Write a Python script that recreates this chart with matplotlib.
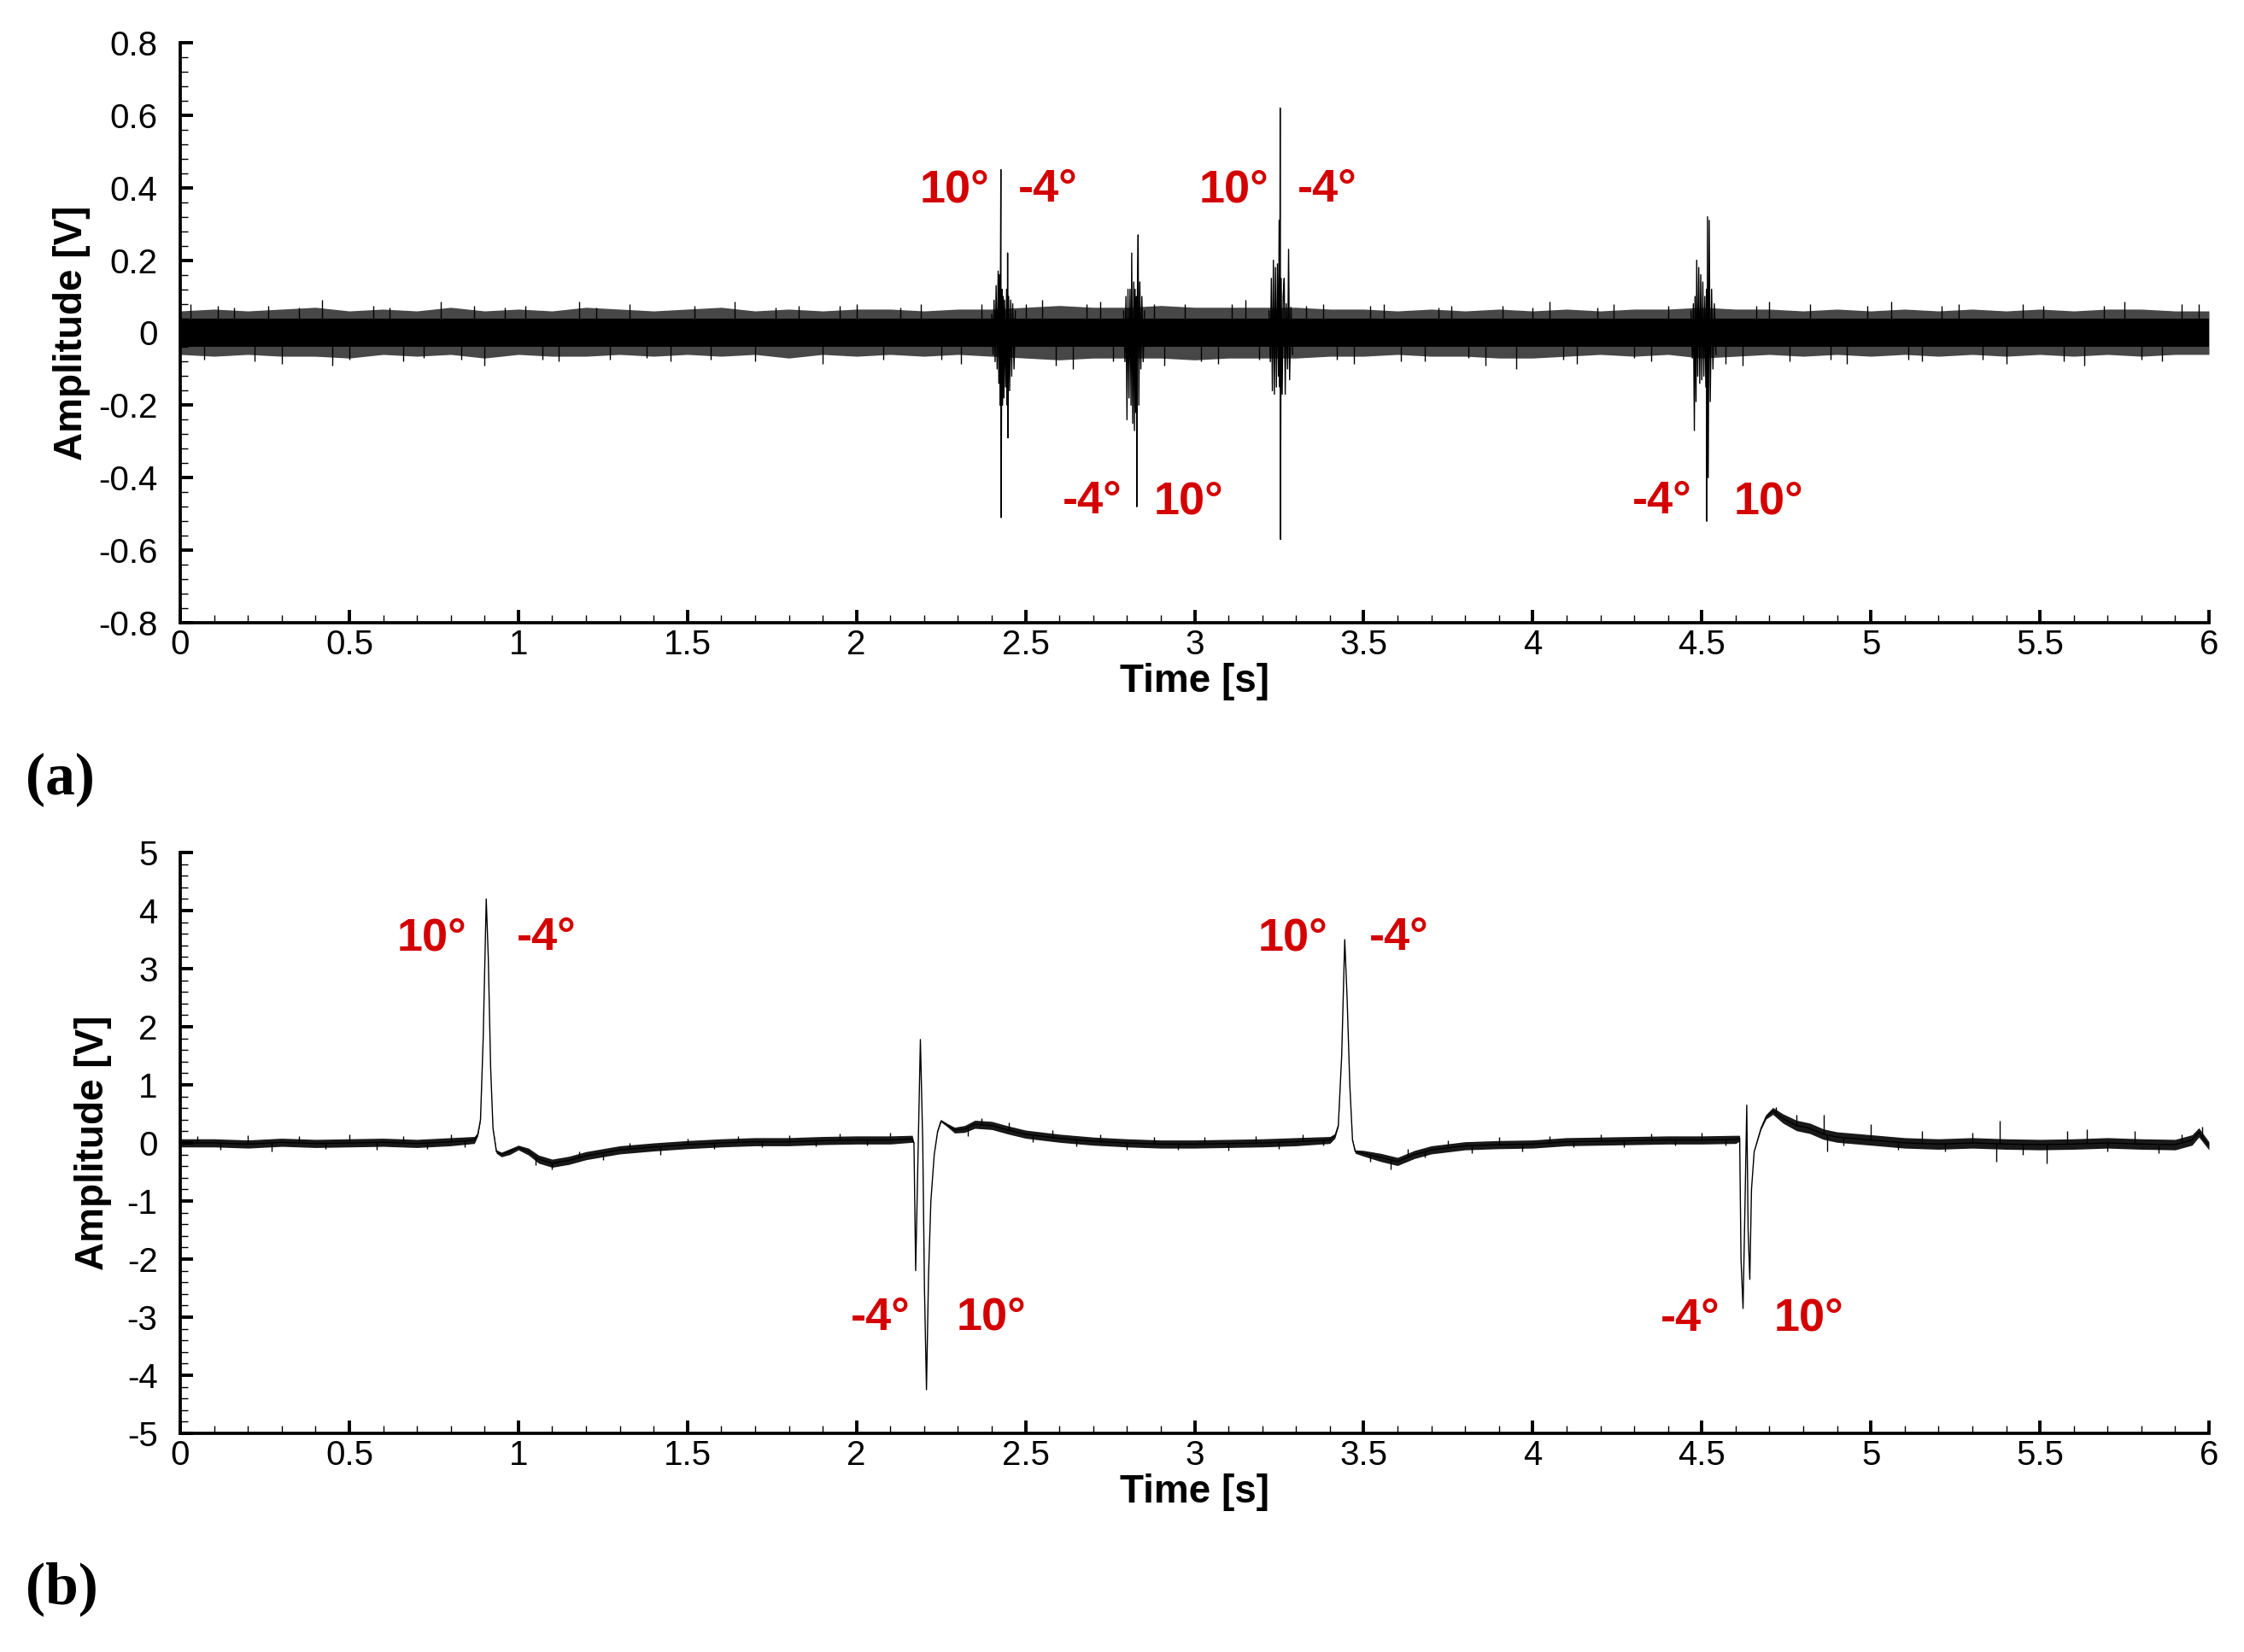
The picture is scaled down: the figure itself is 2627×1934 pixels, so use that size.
import numpy as np
import matplotlib
matplotlib.use("Agg")
import matplotlib.pyplot as plt
from matplotlib.ticker import FixedLocator, FixedFormatter, MultipleLocator

# ---------------- data: panel (a) ----------------
a_env_t = np.linspace(0, 6, 61)
a_upper = [0.060, 0.065, 0.060, 0.065, 0.070, 0.060, 0.065, 0.060, 0.070, 0.060,
           0.065, 0.060, 0.070, 0.065, 0.060, 0.065, 0.070, 0.060, 0.065, 0.060,
           0.065, 0.065, 0.060, 0.065, 0.065, 0.070, 0.075, 0.070, 0.070, 0.075,
           0.070, 0.070, 0.070, 0.070, 0.065, 0.065, 0.060, 0.065, 0.060, 0.065,
           0.060, 0.065, 0.060, 0.065, 0.065, 0.070, 0.065, 0.065, 0.060, 0.065,
           0.060, 0.065, 0.060, 0.065, 0.060, 0.065, 0.060, 0.065, 0.065, 0.060, 0.060]
a_lower = [-0.060, -0.065, -0.060, -0.065, -0.065, -0.070, -0.060, -0.065, -0.060, -0.070,
           -0.060, -0.065, -0.065, -0.060, -0.065, -0.060, -0.065, -0.060, -0.070, -0.060,
           -0.065, -0.060, -0.065, -0.060, -0.065, -0.070, -0.075, -0.070, -0.070, -0.070,
           -0.075, -0.070, -0.070, -0.070, -0.065, -0.065, -0.060, -0.065, -0.065, -0.070,
           -0.070, -0.065, -0.060, -0.065, -0.060, -0.070, -0.065, -0.060, -0.065, -0.060,
           -0.065, -0.060, -0.065, -0.060, -0.065, -0.060, -0.065, -0.060, -0.065, -0.060, -0.060]
a_core = 0.038

a_spk_t = [0.03, 0.07, 0.11, 0.16, 0.22, 0.26, 0.30, 0.35, 0.42, 0.45,
           0.50, 0.57, 0.62, 0.66, 0.72, 0.77, 0.83, 0.87, 0.90, 0.96,
           1.02, 1.07, 1.12, 1.18, 1.23, 1.27, 1.33, 1.38, 1.45, 1.52,
           1.57, 1.64, 1.70, 1.76, 1.83, 1.90, 1.95, 2.00, 2.08, 2.13,
           2.19, 2.25, 2.31, 2.37, 2.50, 2.55, 2.59, 2.64, 2.68, 2.72,
           2.76, 2.88, 2.91, 2.97, 3.02, 3.07, 3.11, 3.15, 3.19, 3.33,
           3.38, 3.42, 3.47, 3.52, 3.56, 3.61, 3.68, 3.72, 3.76, 3.81,
           3.86, 3.91, 3.95, 4.00, 4.05, 4.09, 4.13, 4.19, 4.24, 4.30,
           4.35, 4.40, 4.57, 4.62, 4.66, 4.70, 4.76, 4.82, 4.88, 4.93,
           4.99, 5.06, 5.11, 5.15, 5.21, 5.26, 5.33, 5.40, 5.45, 5.51,
           5.57, 5.63, 5.69, 5.75, 5.80, 5.86, 5.92, 5.97]
a_spk_v = [0.08, -0.075, 0.075, 0.07, -0.08, 0.075, -0.085, 0.07, 0.09, -0.09,
           -0.075, 0.075, 0.07, -0.08, -0.07, 0.085, -0.075, 0.075, -0.09, 0.07,
           0.075, -0.075, -0.08, 0.085, 0.07, -0.075, 0.08, -0.07, -0.08, 0.075,
           -0.075, 0.085, -0.08, 0.07, 0.075, -0.085, 0.075, 0.08, -0.075, 0.07,
           0.08, -0.075, -0.085, 0.08, 0.08, 0.09, -0.09, -0.10, 0.08, 0.085,
           -0.08, 0.08, -0.09, 0.08, -0.08, -0.085, 0.08, 0.09, -0.075, 0.075,
           0.08, -0.075, -0.085, 0.075, 0.08, -0.08, -0.08, 0.07, 0.075, -0.07,
           -0.09, 0.075, -0.10, 0.07, 0.085, -0.075, -0.085, 0.07, 0.08, -0.07,
           -0.08, 0.075, -0.085, -0.09, 0.075, 0.085, -0.08, 0.08, -0.075, -0.085,
           0.075, 0.085, -0.075, -0.08, 0.075, 0.08, -0.075, -0.085, 0.08, 0.075,
           -0.08, -0.09, 0.075, 0.085, -0.075, -0.08, 0.08, 0.08]

ev1_t = [2.400, 2.404, 2.407, 2.410, 2.413, 2.416, 2.419, 2.421, 2.423, 2.425,
         2.426, 2.427, 2.428, 2.430, 2.432, 2.434, 2.436, 2.438, 2.441, 2.444,
         2.446, 2.447, 2.448, 2.450, 2.453, 2.456, 2.459, 2.462, 2.466, 2.470]
ev1_v = [0.05, -0.06, 0.09, -0.08, 0.13, -0.10, 0.17, -0.14, 0.16, -0.20,
         0.20, 0.45, -0.51, 0.12, -0.20, 0.10, -0.18, 0.09, -0.15, 0.12,
         -0.20, 0.22, -0.29, 0.10, -0.16, 0.09, -0.12, 0.08, -0.10, 0.06]
ev2_t = [2.790, 2.794, 2.797, 2.800, 2.803, 2.806, 2.809, 2.812, 2.814, 2.817,
         2.820, 2.822, 2.824, 2.826, 2.828, 2.829, 2.831, 2.833, 2.835, 2.838,
         2.841, 2.844, 2.848, 2.852]
ev2_v = [0.06, -0.08, 0.10, -0.24, 0.12, -0.18, 0.12, -0.20, 0.22, -0.25,
         0.14, -0.27, 0.12, -0.22, 0.10, -0.48, 0.12, 0.27, -0.20, 0.14,
         -0.10, 0.10, -0.08, 0.06]
ev3_t = [3.220, 3.224, 3.227, 3.230, 3.233, 3.236, 3.239, 3.242, 3.245, 3.248,
         3.250, 3.252, 3.253, 3.254, 3.256, 3.259, 3.262, 3.265, 3.268, 3.271,
         3.275, 3.278, 3.281, 3.285, 3.290]
ev3_v = [0.06, -0.08, 0.15, -0.16, 0.20, -0.17, 0.18, -0.15, 0.19, -0.12,
         0.31, -0.15, 0.62, -0.57, 0.15, -0.17, 0.10, 0.15, -0.17, 0.08,
         -0.10, 0.23, -0.13, 0.07, -0.06]
ev4_t = [4.468, 4.472, 4.475, 4.478, 4.480, 4.483, 4.485, 4.488, 4.491, 4.494,
         4.497, 4.500, 4.503, 4.506, 4.509, 4.512, 4.514, 4.515, 4.517, 4.519,
         4.522, 4.525, 4.529, 4.533, 4.537, 4.542]
ev4_v = [0.06, -0.07, 0.08, -0.27, 0.10, -0.19, 0.20, -0.12, 0.18, -0.14,
         0.16, -0.13, 0.14, -0.12, 0.10, -0.15, 0.12, -0.52, 0.32, -0.40,
         0.31, -0.19, 0.12, -0.10, 0.08, -0.06]

# ---------------- data: panel (b) ----------------
b_t = [0.00, 0.10, 0.20, 0.30, 0.40, 0.50, 0.60, 0.70, 0.80, 0.87,
       0.880, 0.888, 0.896, 0.905, 0.911, 0.918, 0.925, 0.935, 0.950, 0.975,
       1.000, 1.030, 1.060, 1.100, 1.150, 1.200, 1.300, 1.400, 1.500, 1.600,
       1.700, 1.800, 1.900, 2.000, 2.100, 2.165, 2.170, 2.175, 2.181, 2.189,
       2.196, 2.201, 2.207, 2.213, 2.220, 2.230, 2.240, 2.250, 2.270, 2.290,
       2.320, 2.350, 2.400, 2.450, 2.500, 2.600, 2.700, 2.800, 2.900, 3.000,
       3.100, 3.200, 3.300, 3.400, 3.415, 3.425, 3.435, 3.444, 3.451, 3.459,
       3.467, 3.475, 3.500, 3.550, 3.600, 3.650, 3.700, 3.800, 3.900, 4.000,
       4.100, 4.200, 4.300, 4.400, 4.500, 4.600, 4.612, 4.616, 4.622, 4.628,
       4.633, 4.637, 4.642, 4.647, 4.655, 4.665, 4.675, 4.690, 4.710, 4.740,
       4.780, 4.820, 4.860, 4.900, 5.000, 5.100, 5.200, 5.300, 5.400, 5.500,
       5.600, 5.700, 5.800, 5.900, 5.950, 5.970, 6.000]
b_v = [0.00, 0.00, -0.02, 0.01, -0.01, 0.00, 0.01, -0.01, 0.02, 0.05,
       0.15, 0.40, 1.80, 4.20, 3.20, 1.30, 0.25, -0.15, -0.20, -0.15,
       -0.08, -0.15, -0.28, -0.35, -0.30, -0.22, -0.12, -0.07, -0.03, 0.00,
       0.02, 0.02, 0.04, 0.05, 0.05, 0.07, 0.00, -2.20, -0.50, 1.78,
       0.00, -2.50, -4.25, -2.30, -1.00, -0.20, 0.20, 0.38, 0.30, 0.22,
       0.24, 0.32, 0.30, 0.22, 0.15, 0.08, 0.03, 0.00, -0.02, -0.02,
       -0.01, 0.00, 0.02, 0.05, 0.12, 0.30, 1.50, 3.50, 2.50, 1.00,
       0.05, -0.15, -0.18, -0.25, -0.32, -0.20, -0.12, -0.05, -0.03, -0.02,
       0.02, 0.03, 0.04, 0.05, 0.05, 0.06, 0.08, -2.00, -2.85, -1.00,
       0.65, -1.50, -2.35, -0.80, -0.15, 0.05, 0.25, 0.45, 0.55, 0.42,
       0.30, 0.25, 0.15, 0.10, 0.05, 0.00, -0.02, 0.00, -0.02, -0.03,
       -0.02, 0.00, -0.02, -0.03, 0.05, 0.18, -0.05]
b_hw = [0.07, 0.07, 0.07, 0.07, 0.07, 0.07, 0.07, 0.07, 0.07, 0.06,
        0.03, 0.02, 0.00, 0.00, 0.00, 0.00, 0.01, 0.03, 0.04, 0.05,
        0.04, 0.06, 0.07, 0.07, 0.07, 0.07, 0.07, 0.07, 0.07, 0.07,
        0.07, 0.07, 0.07, 0.07, 0.07, 0.06, 0.00, 0.00, 0.00, 0.00,
        0.00, 0.00, 0.00, 0.00, 0.00, 0.00, 0.01, 0.02, 0.03, 0.05,
        0.06, 0.07, 0.07, 0.07, 0.07, 0.07, 0.07, 0.07, 0.07, 0.07,
        0.07, 0.07, 0.07, 0.06, 0.04, 0.02, 0.00, 0.00, 0.00, 0.00,
        0.01, 0.03, 0.05, 0.07, 0.07, 0.07, 0.07, 0.07, 0.07, 0.07,
        0.07, 0.07, 0.07, 0.07, 0.07, 0.07, 0.05, 0.00, 0.00, 0.00,
        0.00, 0.00, 0.00, 0.00, 0.00, 0.01, 0.02, 0.04, 0.06, 0.08,
        0.09, 0.09, 0.09, 0.09, 0.09, 0.09, 0.09, 0.09, 0.09, 0.09,
        0.09, 0.09, 0.09, 0.09, 0.09, 0.08, 0.07]
b_spk_t = [0.05, 0.12, 0.20, 0.27, 0.35, 0.43, 0.50, 0.58, 0.66, 0.73,
           0.80, 0.84, 1.05, 1.10, 1.18, 1.25, 1.33, 1.42, 1.50, 1.58,
           1.65, 1.72, 1.80, 1.88, 1.95, 2.03, 2.10, 2.33, 2.37, 2.45,
           2.52, 2.58, 2.65, 2.72, 2.80, 2.88, 2.95, 3.03, 3.10, 3.18,
           3.25, 3.32, 3.38, 3.52, 3.58, 3.63, 3.68, 3.75, 3.82, 3.90,
           3.97, 4.05, 4.12, 4.20, 4.27, 4.35, 4.42, 4.50, 4.57, 4.72,
           4.78, 4.86, 4.87, 4.92, 5.00, 5.08, 5.15, 5.22, 5.30, 5.37,
           5.38, 5.45, 5.52, 5.58, 5.64, 5.70, 5.78, 5.85, 5.92, 5.98]
b_spk_v = [0.12, -0.12, 0.13, -0.14, 0.12, -0.10, 0.14, -0.12, 0.12, -0.10,
           0.15, -0.08, -0.38, -0.45, -0.15, -0.30, 0.00, -0.20, 0.08, -0.10,
           0.12, -0.08, 0.13, -0.06, 0.16, -0.05, 0.17, 0.12, 0.42, 0.35,
           0.02, 0.22, -0.06, 0.15, -0.12, 0.10, -0.12, 0.10, -0.13, 0.12,
           -0.10, 0.14, -0.05, -0.32, -0.45, -0.10, -0.25, 0.05, -0.18, 0.10,
           -0.15, 0.12, -0.08, 0.15, -0.08, 0.16, -0.05, 0.17, -0.04, 0.62,
           0.48, 0.48, -0.15, -0.05, 0.32, -0.12, 0.20, -0.15, 0.18, -0.33,
           0.38, -0.20, -0.36, 0.20, 0.24, -0.15, 0.20, -0.18, 0.15, 0.28]

# ---------------- annotations & ticks ----------------
lab_a_text = ["10°", "-4°", "10°", "-4°", "-4°", "10°", "-4°", "10°"]
lab_a_t = [2.289, 2.566, 3.116, 3.393, 2.698, 2.982, 4.382, 4.698]
lab_a_v = [0.406, 0.406, 0.406, 0.406, -0.454, -0.454, -0.454, -0.454]
lab_b_text = ["10°", "-4°", "-4°", "10°", "10°", "-4°", "-4°", "10°"]
lab_b_t = [0.744, 1.083, 2.072, 2.399, 3.291, 3.605, 4.467, 4.816]
lab_b_v = [3.60, 3.60, -2.94, -2.94, 3.60, 3.60, -2.95, -2.95]

x_ticks = [0, 0.5, 1, 1.5, 2, 2.5, 3, 3.5, 4, 4.5, 5, 5.5, 6]
x_tick_labels = ["0", "0.5", "1", "1.5", "2", "2.5", "3", "3.5", "4", "4.5", "5", "5.5", "6"]
ya_ticks = [-0.8, -0.6, -0.4, -0.2, 0, 0.2, 0.4, 0.6, 0.8]
ya_tick_labels = ["-0.8", "-0.6", "-0.4", "-0.2", "0", "0.2", "0.4", "0.6", "0.8"]
yb_ticks = [-5, -4, -3, -2, -1, 0, 1, 2, 3, 4, 5]
yb_tick_labels = ["-5", "-4", "-3", "-2", "-1", "0", "1", "2", "3", "4", "5"]

RED = "#d40000"
SANS = ["Liberation Sans", "DejaVu Sans"]

W, H = 2627, 1934
fig = plt.figure(figsize=(W / 100, H / 100), dpi=100, facecolor="white")


def px_axes(l, r, t, b):
    return fig.add_axes([l / W, 1 - b / H, (r - l) / W, (b - t) / H])


ax_a = px_axes(211, 2586, 50, 729)
ax_b = px_axes(211, 2586, 998, 1678)


def style(ax, yt, ytl, ymin, ymax, yminor, ylab_x):
    ax.set_xlim(0, 6)
    ax.set_ylim(ymin, ymax)
    for s in ("top", "right"):
        ax.spines[s].set_visible(False)
    for s in ("left", "bottom"):
        ax.spines[s].set_linewidth(2.7)
    ax.xaxis.set_major_locator(FixedLocator(x_ticks))
    ax.xaxis.set_major_formatter(FixedFormatter(x_tick_labels))
    ax.xaxis.set_minor_locator(MultipleLocator(0.1))
    ax.yaxis.set_major_locator(FixedLocator(yt))
    ax.yaxis.set_major_formatter(FixedFormatter(ytl))
    ax.yaxis.set_minor_locator(MultipleLocator(yminor))
    ax.tick_params(which="major", direction="in", length=11, width=2.8, labelsize=29)
    ax.tick_params(which="minor", direction="in", length=6.5, width=1.0)
    ax.tick_params(axis="x", which="major", pad=5)
    ax.tick_params(axis="y", which="major", pad=19)
    for lbl in ax.get_xticklabels() + ax.get_yticklabels():
        lbl.set_family(SANS)
    ax.set_xlabel("Time [s]", fontsize=33, fontweight="bold", family=SANS)
    ax.set_ylabel("Amplitude [V]", fontsize=33, fontweight="bold", family=SANS)
    ax.xaxis.label.set_va("center")
    ax.yaxis.label.set_va("center")
    ax.xaxis.set_label_coords(0.5, -0.102)
    ax.yaxis.set_label_coords(ylab_x, 0.5)


style(ax_a, ya_ticks, ya_tick_labels, -0.8, 0.8, 0.04, -0.0535)
style(ax_b, yb_ticks, yb_tick_labels, -5, 5, 0.2, -0.0429)

# panel (a) signal
ax_a.fill_between(a_env_t, a_lower, a_upper, color="black", alpha=0.72, lw=0)
ax_a.fill_between(a_env_t, -a_core, a_core, color="black", lw=0)
ax_a.vlines(a_spk_t, 0, a_spk_v, color="black", lw=1.0)
for et, ev in ((ev1_t, ev1_v), (ev2_t, ev2_v), (ev3_t, ev3_v), (ev4_t, ev4_v)):
    ax_a.plot(et, ev, color="black", lw=1.0)

# panel (b) signal
b_lo = np.array(b_v) - np.array(b_hw)
b_hi = np.array(b_v) + np.array(b_hw)
ax_b.fill_between(b_t, b_lo, b_hi, color="black", alpha=0.9, lw=0)
ax_b.plot(b_t, b_v, color="black", lw=1.0)
b_base = np.interp(b_spk_t, b_t, b_v)
ax_b.vlines(b_spk_t, b_base, b_spk_v, color="black", lw=1.0)

# red angle labels
for ax, txts, ts, vs in ((ax_a, lab_a_text, lab_a_t, lab_a_v),
                         (ax_b, lab_b_text, lab_b_t, lab_b_v)):
    for s, t, v in zip(txts, ts, vs):
        ax.annotate(s, (t, v), xytext=(0, -13.7), textcoords="offset points",
                    ha="center", va="baseline", color=RED, fontsize=39,
                    fontweight="bold", family=SANS)

# panel letters
fig.text(30 / W, 1 - 913 / H, "(a)", fontsize=50, fontweight="bold",
         family=["Liberation Serif", "DejaVu Serif"], ha="left", va="center")
fig.text(30 / W, 1 - 1860 / H, "(b)", fontsize=50, fontweight="bold",
         family=["Liberation Serif", "DejaVu Serif"], ha="left", va="center")

fig.savefig("out.png", dpi=100, facecolor="white")
